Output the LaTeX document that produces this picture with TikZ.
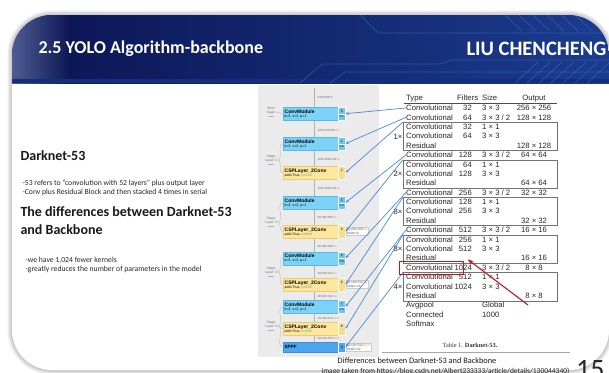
\documentclass[tikz,border=0pt]{standalone}
\usepackage{fontspec}
\setmainfont{Carlito}
\newfontfamily\helv{Liberation Sans}
\newfontfamily\tms{Liberation Serif}
\usetikzlibrary{arrows.meta}
\definecolor{hdnavy}{HTML}{0B1452}
\definecolor{hdblue}{HTML}{1B3C8E}
\definecolor{hdlight}{HTML}{4D5C92}
\definecolor{hdstripe}{HTML}{132E7A}
\definecolor{hdline}{HTML}{3F78D6}
\definecolor{convblue}{HTML}{7DD3F7}
\definecolor{convedge}{HTML}{55B8E6}
\definecolor{idxblue}{HTML}{6CC7F0}
\definecolor{cspyellow}{HTML}{FDE7A0}
\definecolor{cspedge}{HTML}{EFCB6A}
\definecolor{idxyellow}{HTML}{F8DC8C}
\definecolor{sppfblue}{HTML}{4DA5EF}
\definecolor{sppfedge}{HTML}{3A8FDA}
\definecolor{linkblue}{HTML}{4A8AD4}
\definecolor{hlred}{HTML}{C8141C}
\definecolor{wclr}{HTML}{F08C1E}
\definecolor{nclr}{HTML}{3FA34D}
\tikzset{
  convbox/.style={draw=convedge, fill=convblue, line width=0.3pt, minimum width=55pt,
    minimum height=13pt, inner sep=1.2pt, text width=52pt, align=left, anchor=north west,
    font=\helv\fontsize{3.5}{4.2}\selectfont},
  cspbox/.style={convbox, draw=cspedge, fill=cspyellow},
  sppfbox/.style={convbox, draw=sppfedge, fill=sppfblue, minimum height=10pt},
  idxcell/.style={draw=white, line width=0.4pt, fill=#1, minimum width=7pt, minimum height=13pt,
    inner sep=0pt, align=center, anchor=north west, font=\helv\fontsize{3.2}{5.5}\selectfont},
  sizelbl/.style={anchor=west, inner sep=0.5pt, font=\helv\fontsize{3}{3.5}\selectfont, text=black!60},
  stridebox/.style={draw=black!20, fill=white, line width=0.2pt, inner sep=0.8pt, align=left,
    anchor=west, font=\helv\fontsize{3.2}{4.2}\selectfont, text=black!65},
  stagelbl/.style={align=center, font=\helv\fontsize{3.4}{4}\selectfont, text=black!55, inner sep=0.5pt},
  stageline/.style={draw=black!30, line width=0.3pt},
  link/.style={draw=linkblue, line width=0.7pt, -{Stealth[length=3.5pt,width=2.6pt]}},
  cell/.style={inner sep=0pt, font=\helv\fontsize{7.7}{8}\selectfont, text=black!85},
  resbox/.style={draw=black!55, line width=0.5pt, minimum width=154pt, minimum height=28.2pt,
    anchor=north west, inner sep=0pt},
  circ/.style={draw=hdline, line width=0.7pt, opacity=0.5},
}
\begin{document}
\begin{tikzpicture}[x=1pt,y=-1pt]
\clip (0,0) rectangle (609,372);
\fill[white] (0,0) rectangle (609,372);
% slide with soft shadow
\foreach \w in {9,6,3} \draw[black, opacity=0.07, line width=\w pt, rounded corners=40] (12,15) rectangle (609,370);
\fill[white, rounded corners=40] (12,15) rectangle (609,370);
\begin{scope}
  \clip[rounded corners=40] (12,15) rectangle (609,370);
  \shade[left color=hdnavy, right color=hdblue] (12,15) rectangle (612,83);
  \shade[left color=hdlight, right color=hdnavy] (12,15) rectangle (72,83);
  \fill[hdstripe] (12,79) rectangle (612,83);
  \draw[circ] (300,83) -- (322,64) -- (440,64) -- (452,60) -- (612,60);
  \draw[circ] (330,83) -- (345,72) -- (612,72);
  \draw[circ] (360,15) -- (378,33) -- (612,33);
  \foreach \k in {0,...,6} \draw[circ] (515+12*\k,83) -- (538+12*\k,62);
  \foreach \k in {0,...,5} \draw[circ] (505+14*\k,15) -- (522+14*\k,31);
\end{scope}
\node (ttl) [anchor=west, text=white, font=\bfseries\fontsize{18}{20}\selectfont] at (35,49) {2.5 YOLO Algorithm-backbone};
\node (au) [anchor=west, text=white, font=\bfseries\fontsize{20.5}{22}\selectfont] at (463,49) {LIU CHENCHENG};

% left column text
\node (dk) [anchor=west, font=\bfseries\fontsize{14}{16}\selectfont, text=black!90] at (17,156) {Darknet-53};
\node (p1) [anchor=west, font=\fontsize{7.7}{9}\selectfont, text=black!85] at (19,183) {-53 refers to "convolution with 52 layers" plus output layer};
\node (p2) [anchor=west, font=\fontsize{7.7}{9}\selectfont, text=black!85] at (19,192) {-Conv plus Residual Block and then stacked 4 times in serial};
\node (df) [anchor=north west, align=left, font=\bfseries\fontsize{14}{18}\selectfont, text=black!90] at (17,203) {The differences between Darknet-53\\and Backbone};
\node (p3) [anchor=west, font=\fontsize{7.7}{9}\selectfont, text=black!85] at (22,260) {-we have 1,024 fewer kernels};
\node (p4) [anchor=west, font=\fontsize{7.7}{9}\selectfont, text=black!85] at (22,269) {-greatly reduces the number of parameters in the model};

% backbone panel
\fill[black!8] (258,85) rectangle (379,357);
\draw[black!30, line width=0.4pt] (314,88) -- (314,352);
\node[convbox] (b0) at (283,107) {{\bfseries\fontsize{5}{5.5}\selectfont ConvModule}\\k=3, s=2, p=1};
\node[convbox] (b1) at (283,137) {{\bfseries\fontsize{5}{5.5}\selectfont ConvModule}\\k=3, s=2, p=1};
\node[cspbox] (b2) at (283,166) {{\bfseries\fontsize{5}{5.5}\selectfont CSPLayer\_2Conv}\\add=True, \textcolor{nclr}{n=3×d}};
\node[convbox] (b3) at (283,196) {{\bfseries\fontsize{5}{5.5}\selectfont ConvModule}\\k=3, s=2, p=1};
\node[cspbox] (b4) at (283,225) {{\bfseries\fontsize{5}{5.5}\selectfont CSPLayer\_2Conv}\\add=True, \textcolor{nclr}{n=6×d}};
\node[convbox] (b5) at (283,251.5) {{\bfseries\fontsize{5}{5.5}\selectfont ConvModule}\\k=3, s=2, p=1};
\node[cspbox] (b6) at (283,278) {{\bfseries\fontsize{5}{5.5}\selectfont CSPLayer\_2Conv}\\add=True, \textcolor{nclr}{n=6×d}};
\node[convbox] (b7) at (283,300) {{\bfseries\fontsize{5}{5.5}\selectfont ConvModule}\\k=3, s=2, p=1};
\node[cspbox] (b8) at (283,322) {{\bfseries\fontsize{5}{5.5}\selectfont CSPLayer\_2Conv}\\add=True, \textcolor{nclr}{n=3×d}};
\node[sppfbox] (b9) at (283,342) {{\bfseries\fontsize{4.6}{5}\selectfont SPPF}};
\node[idxcell=idxblue] (i0) at (338,107) {0\\P1};
\node[idxcell=idxblue] (i1) at (338,137) {1\\P2};
\node[idxcell=idxyellow] (i2) at (338,166) {2\\\mbox{}};
\node[idxcell=idxblue] (i3) at (338,196) {3\\P3};
\node[idxcell=idxyellow] (i4) at (338,225) {4\\\mbox{}};
\node[idxcell=idxblue] (i5) at (338,251.5) {5\\P4};
\node[idxcell=idxyellow] (i6) at (338,278) {6\\\mbox{}};
\node[idxcell=idxblue] (i7) at (338,300) {7\\P5};
\node[idxcell=idxyellow] (i8) at (338,322) {8\\\mbox{}};
\node[idxcell=sppfblue, minimum height=10pt] (i9) at (338,342) {9};
\foreach \c in {0,1,3,5,7} \draw[white, line width=0.3pt] (i\c.west) -- (i\c.east);
% feature map sizes
\node[sizelbl] (z0) at (317,97) {640×640×3};
\node[sizelbl] (z1) at (317,130) {320×320×64\textcolor{wclr}{×w}};
\node[sizelbl] (z2) at (317,159) {160×160×128\textcolor{wclr}{×w}};
\node[sizelbl] (z3) at (317,188) {160×160×128\textcolor{wclr}{×w}};
\node[sizelbl] (z4) at (317,217) {80×80×256\textcolor{wclr}{×w}};
\node[sizelbl] (z5) at (317,246) {80×80×256\textcolor{wclr}{×w}};
\node[sizelbl] (z6) at (317,273) {40×40×512\textcolor{wclr}{×w}};
\node[sizelbl] (z7) at (317,296) {40×40×512\textcolor{wclr}{×w}};
\node[sizelbl] (z8) at (317,318) {20×20×512\textcolor{wclr}{×w×r}};
\node[sizelbl] (z9) at (317,338.5) {20×20×512\textcolor{wclr}{×w×r}};
\node[stridebox] (t4) at (346,231.5) {80×80×256\textcolor{wclr}{×w}\\Stride=8};
\node[stridebox] (t6) at (346,284.5) {40×40×512\textcolor{wclr}{×w}\\Stride=16};
\node[stridebox] (t9) at (346,347) {20×20×512\textcolor{wclr}{×w×r}\\Stride=32};
% stage labels
\node[stagelbl] (l0) at (271,112) {Stem\\Layer\\[-1pt]\textcolor{black!30}{\rule{6pt}{0.9pt}}};
\node[stagelbl] (l1) at (271,160) {Stage\\Layer 1\\[-1pt]\textcolor{linkblue!60}{\rule{6pt}{0.9pt}}};
\node[stagelbl] (l2) at (271,222) {Stage\\Layer 2\\[-1pt]\textcolor{linkblue!60}{\rule{6pt}{0.9pt}}};
\node[stagelbl] (l3) at (271,272) {Stage\\Layer 3\\[-1pt]\textcolor{linkblue!60}{\rule{6pt}{0.9pt}}};
\node[stagelbl] (l4) at (271,326) {Stage\\Layer 4\\[-1pt]\textcolor{linkblue!60}{\rule{6pt}{0.9pt}}};
\draw[stageline] (l0.east) -- (b0.west);
\foreach \s/\a/\b in {1/1/2,2/3/4,3/5/6} {
  \draw[stageline] (l\s.east) to[out=0,in=180] (b\a.west);
  \draw[stageline] (l\s.east) to[out=0,in=180] (b\b.west);
}
\foreach \a in {7,8,9} \draw[stageline] (l4.east) to[out=0,in=180] (b\a.west);

% Darknet-53 table (rows placed on their baselines)
\node[cell, anchor=base west] (hty) at (406,100.7) {Type};
\node[cell, anchor=base west] (hfi) at (457,100.7) {Filters};
\node[cell, anchor=base west] (hsz) at (482,100.7) {Size};
\node[cell, anchor=base] (hou) at (534,100.7) {Output};
\draw[black!70, line width=0.5pt] (404,103) -- (557,103);
\foreach \i/\ty/\nf/\sz/\ou in {
  1/Convolutional/32/3 × 3/256 × 256,
  2/Convolutional/64/{3 × 3 / 2}/128 × 128,
  3/Convolutional/32/1 × 1/{},
  4/Convolutional/64/3 × 3/{},
  5/Residual/{}/{}/128 × 128,
  6/Convolutional/128/{3 × 3 / 2}/64 × 64,
  7/Convolutional/64/1 × 1/{},
  8/Convolutional/128/3 × 3/{},
  9/Residual/{}/{}/64 × 64,
  10/Convolutional/256/{3 × 3 / 2}/32 × 32,
  11/Convolutional/128/1 × 1/{},
  12/Convolutional/256/3 × 3/{},
  13/Residual/{}/{}/32 × 32,
  14/Convolutional/512/{3 × 3 / 2}/16 × 16,
  15/Convolutional/256/1 × 1/{},
  16/Convolutional/512/3 × 3/{},
  17/Residual/{}/{}/16 × 16,
  18/Convolutional/1024/{3 × 3 / 2}/8 × 8,
  19/Convolutional/512/1 × 1/{},
  20/Convolutional/1024/3 × 3/{},
  21/Residual/{}/{}/8 × 8,
  22/Avgpool/{}/Global/{},
  23/Connected/{}/1000/{},
  24/Softmax/{}/{}/{}} {
  \pgfmathsetmacro\ry{110.7+(\i-1)*9.39}
  \node[cell, anchor=base west] (r\i) at (406,\ry) {\ty};
  \node[cell, anchor=base east] (f\i) at (472,\ry) {\nf};
  \node[cell, anchor=base west] (s\i) at (482,\ry) {\sz};
  \node[cell, anchor=base] (o\i) at (534,\ry) {\ou};
}
\foreach \k/\r/\m in {1/3/1,2/7/2,3/11/8,4/15/8,5/19/4} {
  \pgfmathsetmacro\by{108+(\r-1)*9.39-4.7}
  \node[resbox] (k\k) at (403,\by) {};
  \node[cell, anchor=east] (m\k) at ([xshift=-0.5pt]k\k.west) {\m×};
}
\node (tcap) [font=\tms\fontsize{6.3}{7}\selectfont, text=black!80] at (470,345) {Table 1. \textbf{Darknet-53.}};
\draw[black!35, line width=1pt] (382,352) -- (570,352);

% links from table to backbone
\draw[link] (r1.west) -- (i0.east);
\draw[link] (r2.west) -- (i1.east);
\draw[link] (k1.north west) -- (i2.east);
\draw[link] (r6.west) -- (i3.east);
\draw[link] (k2.north west) -- (i4.east);
\draw[link] (r10.west) -- (i5.east);
\draw[link] (k3.north west) -- (i6.east);
\draw[link] (r14.west) -- (i7.east);
\draw[link] (k4.north west) -- (i8.east);
\draw[link] (k5.north west) -- (i9.east);

% highlight
\node (hl) [draw=hlred, line width=0.7pt, minimum width=64pt, minimum height=12.5pt, anchor=west, inner sep=0pt] at (399,268) {};
\coordinate (ra) at (528,305);
\draw[draw=hlred, line width=1.1pt, -{Stealth[length=6pt,width=4.5pt]}] (ra) -- ([shift={(4,-2)}]hl.north east);

% bottom
\node (cap) [font=\fontsize{8.3}{9}\selectfont, text=black!90] at (417,361) {Differences between Darknet-53 and Backbone};
\node (src) [anchor=west, font=\fontsize{7.5}{8}\selectfont, text=black!85] at (318,371) {image taken from https://blog.csdn.net/Albert233333/article/details/130044340)};
\node (pg) [anchor=north west, inner sep=0pt, font=\fontsize{28}{30}\selectfont, text=black!85] at (576,360) {15};
\end{tikzpicture}
\end{document}
